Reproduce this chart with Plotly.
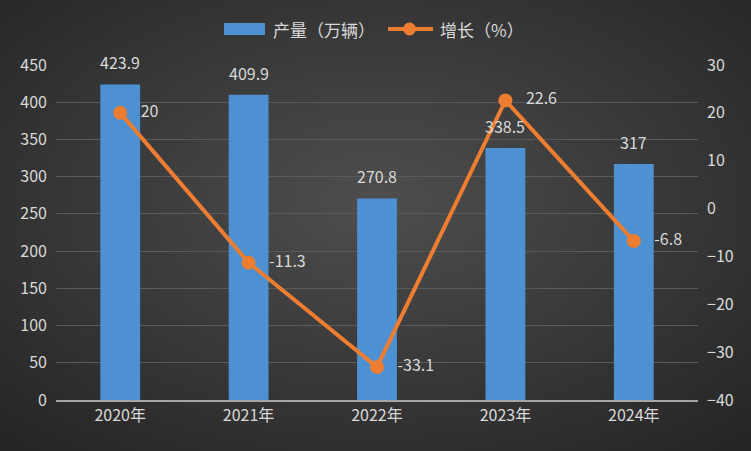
import plotly.graph_objects as go

years = ["2020年", "2021年", "2022年", "2023年", "2024年"]
production = [423.9, 409.9, 270.8, 338.5, 317]
growth = [20, -11.3, -33.1, 22.6, -6.8]
prod_labels = ["423.9", "409.9", "270.8", "338.5", "317"]
growth_labels = ["20", "-11.3", "-33.1", "22.6", "-6.8"]
legend_names = ["产量（万辆）", "增长（%）"]

FONT = "Noto Sans CJK SC, Noto Sans, sans-serif"
TXT = "#d9d9d9"
BLUE = "#4d91d3"
ORANGE = "#ed7d31"

W, H = 751, 451
L, R, T, B = 56, 53, 65, 51
PW, PH = W - L - R, H - T - B

def px(x):
    return (x - L) / PW

def py(y):
    return (H - B - y) / PH

bg_svg = (
    "data:image/svg+xml;utf8,"
    "<svg xmlns='http://www.w3.org/2000/svg' width='751' height='451'>"
    "<defs><radialGradient id='g' cx='50%' cy='45%' r='72%'>"
    "<stop offset='0%' stop-color='%234e4e4e'/>"
    "<stop offset='100%' stop-color='%23252525'/>"
    "</radialGradient></defs>"
    "<rect width='751' height='451' fill='url(%23g)'/></svg>"
)

fig = go.Figure()
fig.add_trace(go.Bar(
    x=years, y=production, name=legend_names[0],
    marker=dict(color=BLUE, line=dict(width=0)),
    width=0.31, showlegend=False,
))
fig.add_trace(go.Scatter(
    x=years, y=growth, name=legend_names[1], yaxis="y2",
    mode="lines+markers+text",
    line=dict(color=ORANGE, width=4),
    marker=dict(color=ORANGE, size=14),
    text=["   " + t for t in growth_labels], textposition="middle right",
    textfont=dict(color=TXT, size=16, family=FONT),
    cliponaxis=False, showlegend=False,
))

shapes = [
    dict(type="rect", xref="paper", yref="paper", x0=px(224), x1=px(265),
         y0=py(35), y1=py(23), fillcolor=BLUE, line=dict(width=0), layer="above"),
    dict(type="line", xref="paper", yref="paper", x0=px(388), x1=px(433),
         y0=py(29), y1=py(29), line=dict(color=ORANGE, width=4)),
    dict(type="circle", xref="paper", yref="paper", x0=px(403), x1=px(416),
         y0=py(35.5), y1=py(22.5), fillcolor=ORANGE, line=dict(width=0)),
]
annotations = [
    dict(xref="paper", yref="paper", x=px(271), y=py(29), text=legend_names[0],
         showarrow=False, xanchor="left", yanchor="middle",
         font=dict(size=17, color=TXT, family=FONT)),
    dict(xref="paper", yref="paper", x=px(438), y=py(29), text=legend_names[1],
         showarrow=False, xanchor="left", yanchor="middle",
         font=dict(size=17, color=TXT, family=FONT)),
]
for yr, v, lab in zip(years, production, prod_labels):
    annotations.append(dict(x=yr, y=v, xref="x", yref="y", text=lab, showarrow=False,
                            xanchor="center", yanchor="bottom", yshift=8,
                            font=dict(size=16, color=TXT, family=FONT)))

fig.update_layout(
    width=W, height=H,
    margin=dict(l=L, r=R, t=T, b=B, autoexpand=False),
    paper_bgcolor="#363636",
    plot_bgcolor="rgba(0,0,0,0)",
    font=dict(family=FONT, color=TXT, size=16),
    images=[dict(source=bg_svg, xref="paper", yref="paper", x=px(0), y=py(0),
                 sizex=W / PW, sizey=H / PH, xanchor="left", yanchor="top",
                 layer="below", sizing="stretch")],
    shapes=shapes,
    annotations=annotations,
    showlegend=False,
    bargap=0.69,
    xaxis=dict(showgrid=False, tickfont=dict(size=16, color=TXT), ticks="",
               showline=True, linecolor="#a6a6a6", linewidth=2, automargin=False),
    yaxis=dict(range=[0, 450], dtick=50, showgrid=True, gridcolor="#5a5a5a", gridwidth=1,
               zeroline=False, tickfont=dict(size=16, color=TXT), ticks="",
               ticklabelstandoff=8, automargin=False),
    yaxis2=dict(range=[-40, 30], dtick=10, overlaying="y", side="right", showgrid=False,
                zeroline=False, tickfont=dict(size=16, color=TXT),
                ticklabelstandoff=8, automargin=False),
)

fig.write_html("out.html", config={"displayModeBar": False},
               post_script="document.body.style.margin='0';document.body.style.background='#262626';")
